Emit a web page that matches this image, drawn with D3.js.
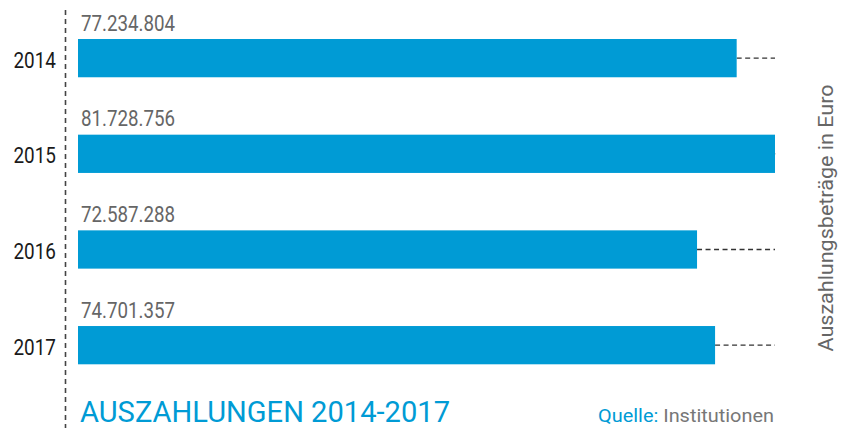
<!DOCTYPE html>
<html>
<head>
<meta charset="utf-8">
<script src="https://cdn.jsdelivr.net/npm/d3@7/dist/d3.min.js"></script>
<style>
  body { margin: 0; background: #fff; }
  text { font-family: Roboto, "Noto Sans", sans-serif; }
</style>
</head>
<body>
<div id="chart-container"></div>
<script>
(function () {
    'use strict';

    var years = ['2014', '2015', '2016', '2017'];
    var amounts = [77234804, 81728756, 72587288, 74701357];
    var amountLabels = ['77.234.804', '81.728.756', '72.587.288', '74.701.357'];

    var width = 843;
    var height = 428;
    var blue = '#009bd5';

    var svg = d3.select('#chart-container')
        .append('svg')
        .attr('width', width)
        .attr('height', height);

    var x = d3.scaleLinear()
        .domain([0, d3.max(amounts)])
        .range([78, 775]);

    var y = d3.scaleBand()
        .domain(years)
        .range([39, 364.3])
        .paddingInner(0.6)
        .paddingOuter(0);

    var rows = years.map(function (yr, i) {
        return { year: yr, value: amounts[i], label: amountLabels[i] };
    });

    // condensed look: squeeze the glyphs to the width seen in the original
    function squeeze(sel, len) {
        sel.attr('textLength', len).attr('lengthAdjust', 'spacingAndGlyphs');
    }

    // vertical dashed axis line
    svg.append('line')
        .attr('x1', 65.5).attr('x2', 65.5)
        .attr('y1', 10).attr('y2', 428)
        .style('stroke', '#444')
        .style('stroke-width', 1.6)
        .style('stroke-dasharray', '5,4');

    var g = svg.selectAll('g.row')
        .data(rows)
        .enter()
        .append('g')
        .attr('class', 'row');

    // dashed guide to max
    g.append('line')
        .attr('x1', function (d) { return x(d.value); })
        .attr('x2', x.range()[1])
        .attr('y1', function (d) { return y(d.year) + y.bandwidth() / 2; })
        .attr('y2', function (d) { return y(d.year) + y.bandwidth() / 2; })
        .style('stroke', '#333')
        .style('stroke-width', 1.4)
        .style('stroke-dasharray', '5,3.5');

    g.append('rect')
        .attr('x', x(0))
        .attr('y', function (d) { return y(d.year); })
        .attr('width', function (d) { return x(d.value) - x(0); })
        .attr('height', y.bandwidth())
        .style('fill', blue);

    g.append('text')
        .attr('x', 81)
        .attr('y', function (d) { return y(d.year) - 8.5; })
        .style('font-size', '22px')
        .style('fill', '#666')
        .text(function (d) { return d.label; })
        .call(squeeze, 94);

    g.append('text')
        .attr('x', 56)
        .attr('y', function (d) { return y(d.year) + y.bandwidth() / 2 + 9.5; })
        .attr('text-anchor', 'end')
        .style('font-size', '22px')
        .style('fill', '#1a1a1a')
        .text(function (d) { return d.year; })
        .call(squeeze, 42.5);

    svg.append('text')
        .attr('transform', 'translate(833,218) rotate(-90)')
        .attr('text-anchor', 'middle')
        .style('font-size', '20px')
        .style('fill', '#666')
        .text('Auszahlungsbeträge in Euro')
        .call(squeeze, 267);

    svg.append('text')
        .attr('x', 80)
        .attr('y', 422)
        .style('font-size', '30px')
        .style('fill', blue)
        .text('AUSZAHLUNGEN 2014-2017')
        .call(squeeze, 370);

    var src = svg.append('text')
        .attr('x', 774)
        .attr('y', 422)
        .attr('text-anchor', 'end')
        .style('font-size', '18px');
    src.append('tspan').style('fill', blue).text('Quelle: ');
    src.append('tspan').style('fill', '#777').text('Institutionen');
    src.call(squeeze, 176);
}());
</script>
</body>
</html>
